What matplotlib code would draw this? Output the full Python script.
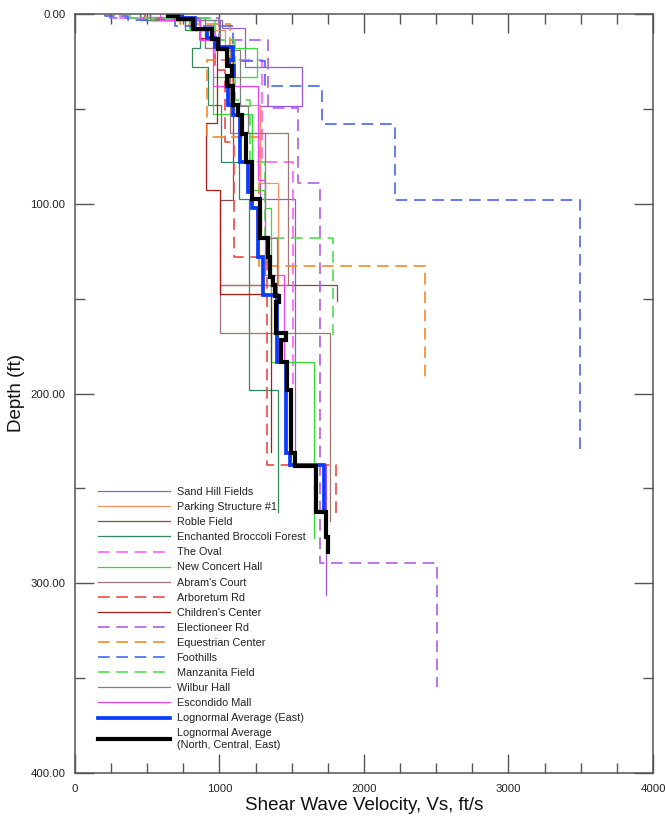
import numpy as np
import matplotlib
matplotlib.use("Agg")
import matplotlib.pyplot as plt
from matplotlib.ticker import MultipleLocator, FormatStrFormatter

plt.rcParams['font.family'] = ['Liberation Sans', 'DejaVu Sans']

# Layer boundaries (depth, ft) and layer shear-wave velocities (ft/s) for each site
sand_hill_depth = [0, 3, 7.5, 28, 48.5, 97.5, 237.5, 306]
sand_hill_vs = [730, 1020, 1175, 1570, 1280, 1520, 1735]

parking_depth = [0, 2, 8.5, 19, 48, 89, 143]
parking_vs = [520, 900, 1040, 1085, 1280, 1405]

roble_depth = [0, 1.6, 8.4, 18, 98, 143, 151]
roble_vs = [450, 830, 970, 1093, 1003, 1813]

broccoli_depth = [0, 3.2, 8.4, 18, 28, 48, 78, 97.5, 198, 262.5]
broccoli_vs = [450, 760, 865, 810, 920, 1010, 1135, 1205, 1405]

oval_depth = [0, 2, 8.4, 24, 78, 198]
oval_vs = [310, 795, 970, 1295, 1510]

concert_depth = [0, 3.2, 8.4, 18, 33, 52.7, 92.8, 102.3, 183.4, 276]
concert_vs = [520, 795, 900, 1260, 955, 1225, 1315, 1355, 1655]

abrams_depth = [0, 2, 18, 62.7, 143, 168, 267]
abrams_vs = [520, 900, 1073, 1474, 1003, 1765]

arboretum_depth = [0, 2, 13.7, 29.5, 67.5, 128, 237.7, 264]
arboretum_vs = [485, 865, 970, 1038, 1100, 1330, 1805]

childrens_depth = [0, 3.2, 12.7, 57.5, 92.8, 147.6, 231]
childrens_vs = [520, 865, 983, 907, 1003, 1356]

electioneer_depth = [0, 2, 13.7, 49.5, 89, 289.4, 354.8]
electioneer_vs = [240, 1000, 1335, 1545, 1695, 2505]

equestrian_depth = [0, 5.3, 24.2, 64.8, 132.8, 194]
equestrian_vs = [727, 1073, 915, 1275, 2422]

foothills_depth = [0, 1, 3.2, 6.3, 24.8, 38, 58, 98, 231]
foothills_vs = [208, 367, 692, 1093, 1315, 1709, 2215, 3495]

manzanita_depth = [0, 2, 13.7, 45.3, 78, 118, 169]
manzanita_vs = [380, 970, 1107, 1211, 1315, 1785]

wilbur_depth = [0, 3.2, 19, 48.5, 62.7, 118, 184]
wilbur_vs = [520, 1003, 1142, 1197, 1315, 1398]

escondido_depth = [0, 3.2, 13.7, 38, 87.5, 137.6, 182.4]
escondido_vs = [588, 865, 955, 1266, 1315, 1446]

# Lognormal average profiles
east_avg_depth = [0, 2, 8, 12.7, 17.4, 24.2, 27.4, 32.7, 48, 53.2, 78, 93.8,
                  102.3, 128, 148, 183.4, 231.4, 237.7, 261.5]
east_avg_vs = [740, 830, 913, 969, 1093, 1066, 1100, 1059, 1093, 1142, 1197,
               1225, 1266, 1301, 1398, 1460, 1488, 1723]

all_avg_depth = [0, 1, 2.6, 8, 13, 18.5, 27.5, 32.5, 38, 48, 53, 63, 78, 97.5,
                 118, 128, 138.5, 143, 148.5, 152, 168, 172, 183.5, 198, 231.5,
                 238, 262.5, 275.5, 283.5]
all_avg_vs = [645, 715, 815, 950, 990, 1050, 1085, 1050, 1095, 1130, 1155, 1185,
              1225, 1280, 1335, 1350, 1370, 1385, 1410, 1390, 1460, 1425, 1465,
              1495, 1520, 1670, 1735, 1750]


def step_profile(depths, vs):
    d = np.asarray(depths, dtype=float)
    v = np.asarray(vs, dtype=float)
    x = np.repeat(v, 2)
    y = np.column_stack([d[:-1], d[1:]]).ravel()
    return x, y


DASH = (0, (7, 4))
sites = [
    ("Sand Hill Fields", sand_hill_depth, sand_hill_vs, '#9955dd', '-'),
    ("Parking Structure #1", parking_depth, parking_vs, '#f4915a', '-'),
    ("Roble Field", roble_depth, roble_vs, '#8b4a4a', '-'),
    ("Enchanted Broccoli Forest", broccoli_depth, broccoli_vs, '#2e8b57', '-'),
    ("The Oval", oval_depth, oval_vs, '#ff5fff', DASH),
    ("New Concert Hall", concert_depth, concert_vs, '#33dd33', '-'),
    ("Abram's Court", abrams_depth, abrams_vs, '#a07575', '-'),
    ("Arboretum Rd", arboretum_depth, arboretum_vs, '#f04848', DASH),
    ("Children's Center", childrens_depth, childrens_vs, '#b01818', '-'),
    ("Electioneer Rd", electioneer_depth, electioneer_vs, '#b05ee0', DASH),
    ("Equestrian Center", equestrian_depth, equestrian_vs, '#f58a2a', DASH),
    ("Foothills", foothills_depth, foothills_vs, '#4a66ee', DASH),
    ("Manzanita Field", manzanita_depth, manzanita_vs, '#50e050', DASH),
    ("Wilbur Hall", wilbur_depth, wilbur_vs, '#808080', '-'),
    ("Escondido Mall", escondido_depth, escondido_vs, '#ee44ee', '-'),
]

fig = plt.figure(figsize=(6.65, 8.17), dpi=100)
ax = fig.add_axes([75 / 665, 1 - 773 / 817, 578 / 665, 759 / 817])

for name, d, v, color, ls in sites:
    x, y = step_profile(d, v)
    lw = 1.2 if ls != '-' else 0.9
    ax.plot(x, y, color=color, lw=lw, linestyle=ls, label=name,
            solid_joinstyle='miter')

x, y = step_profile(east_avg_depth, east_avg_vs)
ax.plot(x, y, color='#0a3cff', lw=2.7, label="Lognormal Average (East)",
        solid_joinstyle='miter')
x, y = step_profile(all_avg_depth, all_avg_vs)
ax.plot(x, y, color='black', lw=3.0,
        label="Lognormal Average\n(North, Central, East)",
        solid_joinstyle='miter')

ax.set_xlim(0, 4000)
ax.set_ylim(400, 0)

ax.xaxis.set_major_locator(MultipleLocator(1000))
ax.xaxis.set_minor_locator(MultipleLocator(250))
ax.yaxis.set_major_locator(MultipleLocator(100))
ax.yaxis.set_minor_locator(MultipleLocator(50))
ax.xaxis.set_major_formatter(FormatStrFormatter('%d'))
ax.yaxis.set_major_formatter(FormatStrFormatter('%.2f'))

spine_color = '#555555'
for s in ax.spines.values():
    s.set_color(spine_color)
    s.set_linewidth(1.1)
ax.tick_params(which='both', direction='in', top=True, right=True,
               color=spine_color, width=1.0, labelsize=8.2, labelcolor='#222222')
ax.tick_params(which='major', length=13.5)
ax.tick_params(which='minor', length=7)
ax.tick_params(axis='y', which='major', pad=7)
ax.tick_params(axis='x', which='major', pad=8)

ax.set_xlabel("Shear Wave Velocity, Vs, ft/s", fontsize=13.5, labelpad=2,
              color='#111111')
ax.set_ylabel("Depth (ft)", fontsize=13.5, labelpad=4, color='#111111')

leg = ax.legend(loc='upper left', bbox_to_anchor=(98 / 665, 1 - 487 / 817),
                bbox_transform=fig.transFigure, frameon=False, fontsize=7.8,
                handlelength=6.6, handletextpad=0.65, labelspacing=0.47,
                borderpad=0, borderaxespad=0)
for t in leg.get_texts():
    t.set_color('#222222')

fig.savefig("out.png", dpi=100)
